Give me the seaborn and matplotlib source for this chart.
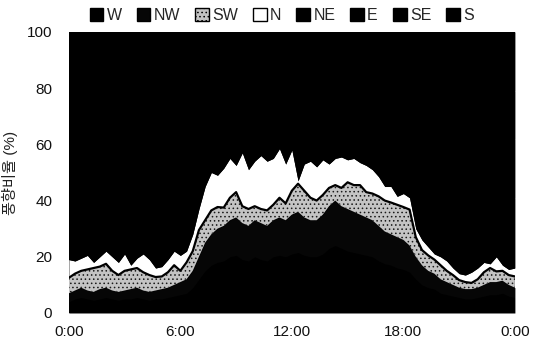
import numpy as np
import matplotlib
matplotlib.use("Agg")
import matplotlib.pyplot as plt
import seaborn as sns
from matplotlib.patches import Patch

# ---- data (20-minute steps over one day, hours) ----
hours = [i / 3 for i in range(73)]
tick_hours = [0, 6, 12, 18, 24]
tick_labels = ["0:00", "6:00", "12:00", "18:00", "0:00"]
directions = ["W", "NW", "SW", "N", "NE", "E", "SE", "S"]

W = [4, 5, 5.5, 5, 4.5, 5, 5.5, 5, 4.5, 5, 5, 5.5, 5, 4.5, 5, 5, 5.5, 6, 6.5, 7,
     9, 12, 15, 17, 18, 18.5, 20, 20.5, 19, 18.5, 20, 19, 18.5, 20, 20.5, 20, 21, 21.5,
     20.5, 20, 20, 21, 23, 24, 23, 22, 21.5, 21, 20.5, 20, 18.5, 17.5, 17, 16, 15.5,
     14.5, 12, 10, 9, 8.5, 7, 6.5, 6, 5.5, 5, 5, 5.5, 6, 6.5, 6.5, 7, 6, 5.5]
NW = [3, 3, 3.5, 3, 3, 3.5, 3.5, 3, 3, 3, 3.5, 3.5, 3, 3, 3, 3.5, 3.5, 4, 4.5, 5,
      6, 8, 10, 11, 12, 12.5, 13, 13.5, 13, 12.5, 13, 13, 12.5, 13, 13.5, 13, 14, 14.5,
      13.5, 13, 13, 14, 15, 16, 15, 15, 14.5, 14, 13.5, 13, 12.5, 11.5, 11, 11, 10.5,
      9.5, 8, 7, 6, 5.5, 5, 4.5, 4, 3.5, 3.5, 3.5, 3.5, 4, 4.5, 4.5, 4.5, 4, 3.5]
SW = [5.5, 6, 6, 7.5, 8.5, 8, 8.5, 7, 6, 7, 7, 7, 6.5, 6, 4.8, 4.5, 5.5, 7, 4, 6,
      7, 9.5, 8, 8.5, 7.7, 6.5, 8, 9, 6, 6, 5, 5, 5.5, 5.5, 7, 6, 8.5, 10,
      9.5, 8, 7, 7, 6.5, 5.5, 6.5, 9.5, 9.5, 10.5, 9, 9.5, 10.5, 11, 11.3, 11.5, 11.7,
      12.8, 7, 5.4, 5.5, 5, 5, 4, 3.5, 2.7, 2.5, 2.2, 3, 4.5, 5, 3.8, 3.5, 3.5, 4]
N = [6.5, 4.5, 4.5, 5, 2, 3.5, 4.5, 5, 4.5, 6, 1.5, 3.5, 6.5, 5.5, 3.2, 3.5, 4.5, 5, 5.5, 4,
     6, 7.5, 12, 13.5, 11.3, 14, 14, 9.5, 19, 14, 16, 19, 17.5, 16.5, 17.5, 14, 14.5, 1,
     9.5, 13, 12, 12.5, 8.5, 9.5, 11, 8, 9.5, 8, 9.5, 8.5, 7, 5, 5.7, 3, 4.8,
     4.2, 3, 3.6, 3, 2, 3, 3.5, 2.5, 2.3, 2.5, 3.8, 4, 3.5, 1.5, 5.2, 2, 2, 3]
NE = [24, 24, 24, 24, 25, 24, 23, 24, 25, 24, 25, 24, 24, 24, 25, 25, 24, 23, 24, 23,
      22, 19, 17, 15, 15, 15, 14, 14, 13, 15, 14, 13, 14, 14, 12, 14, 13, 16,
      14, 14, 14, 14, 14, 14, 13, 14, 14, 14, 14, 15, 15, 17, 17, 18, 17,
      18, 21, 22, 23, 24, 24, 24, 25, 26, 26, 26, 25, 25, 25, 24, 25, 25, 25]
E = [20, 20, 20, 20, 21, 20, 20, 20, 21, 20, 21, 20, 20, 20, 21, 21, 20, 20, 20, 20,
     18, 16, 14, 13, 13, 12, 11, 12, 11, 12, 12, 11, 12, 11, 10, 12, 11, 13,
     12, 12, 12, 11, 12, 11, 11, 11, 11, 12, 12, 12, 13, 14, 14, 15, 14,
     15, 18, 19, 19, 20, 20, 20, 21, 22, 22, 21, 21, 21, 21, 20, 21, 21, 21]
SE = [16, 16, 16, 16, 16, 16, 16, 16, 16, 16, 17, 16, 16, 16, 17, 17, 16, 16, 16, 16,
      14, 13, 11, 10, 10, 10, 9, 10, 9, 10, 9, 9, 9, 9, 8, 9, 8, 11,
      9, 9, 10, 9, 9, 9, 9, 9, 9, 9, 10, 10, 10, 11, 11, 12, 12,
      12, 14, 15, 15, 16, 16, 16, 17, 17, 17, 17, 17, 16, 16, 16, 17, 17, 17]
S = [21, 21.5, 20.5, 19.5, 20, 20, 19, 20, 20, 19, 20, 20.5, 19, 21, 21, 20.5, 21, 19, 19.5, 19,
     18, 15, 13, 12, 13, 11.5, 11, 11.5, 10, 12, 11, 11, 11, 11, 11.5, 12, 10, 13,
     12, 11, 12, 11.5, 12, 11, 11.5, 11.5, 11, 11.5, 11.5, 12, 13.5, 13, 13, 13.5, 14.5,
     14, 17, 18, 19.5, 19, 20, 21.5, 21, 21, 21.5, 21.5, 21, 20, 20.5, 20, 20, 21.5, 21]

series = [W, NW, SW, N, NE, E, SE, S]
colors = ["#000000", "#060606", "#c4c4c4", "#ffffff",
          "#000000", "#000000", "#000000", "#000000"]

sns.set_theme(style="white")
plt.rcParams["font.family"] = ["Liberation Sans", "Noto Sans CJK KR", "DejaVu Sans"]
plt.rcParams["hatch.linewidth"] = 0.6

fig = plt.figure(figsize=(5.42, 3.47), dpi=100)
ax = fig.add_axes([0.127, 0.098, 0.823, 0.810])
ax.set_facecolor("#000000")

polys = ax.stackplot(hours, *series, colors=colors, linewidth=0)
polys[2].set_hatch("....")
polys[2].set_edgecolor("#1a1a1a")
polys[2].set_linewidth(0)

# dark boundary line on top of SW band
top_sw = np.cumsum(np.array(series[:3]), axis=0)[-1]
ax.plot(hours, top_sw, color="#000000", lw=1.6)

ax.set_xlim(0, 24)
ax.set_ylim(0, 100)
ax.set_yticks([0, 20, 40, 60, 80, 100])
ax.set_xticks(tick_hours)
ax.set_xticklabels(tick_labels)
ax.tick_params(axis="both", length=0, labelsize=11, colors="#111111")
ax.tick_params(axis="x", pad=9)
ax.tick_params(axis="y", pad=12)
for sp in ax.spines.values():
    sp.set_visible(False)

ax.set_ylabel("풍향비율 (%)", fontsize=11, labelpad=6, color="#222222")

handles = [Patch(facecolor=c, edgecolor="#000000", linewidth=1.0,
                 hatch=("...." if d == "SW" else None))
           for c, d in zip(colors, directions)]
fig.legend(handles, directions, loc="upper center", bbox_to_anchor=(0.52, 1.005),
           ncol=8, frameon=False, fontsize=11.5, handlelength=0.85, handleheight=0.85,
           handletextpad=0.2, columnspacing=0.95, borderaxespad=0.2)

fig.savefig("out.png", dpi=100)
